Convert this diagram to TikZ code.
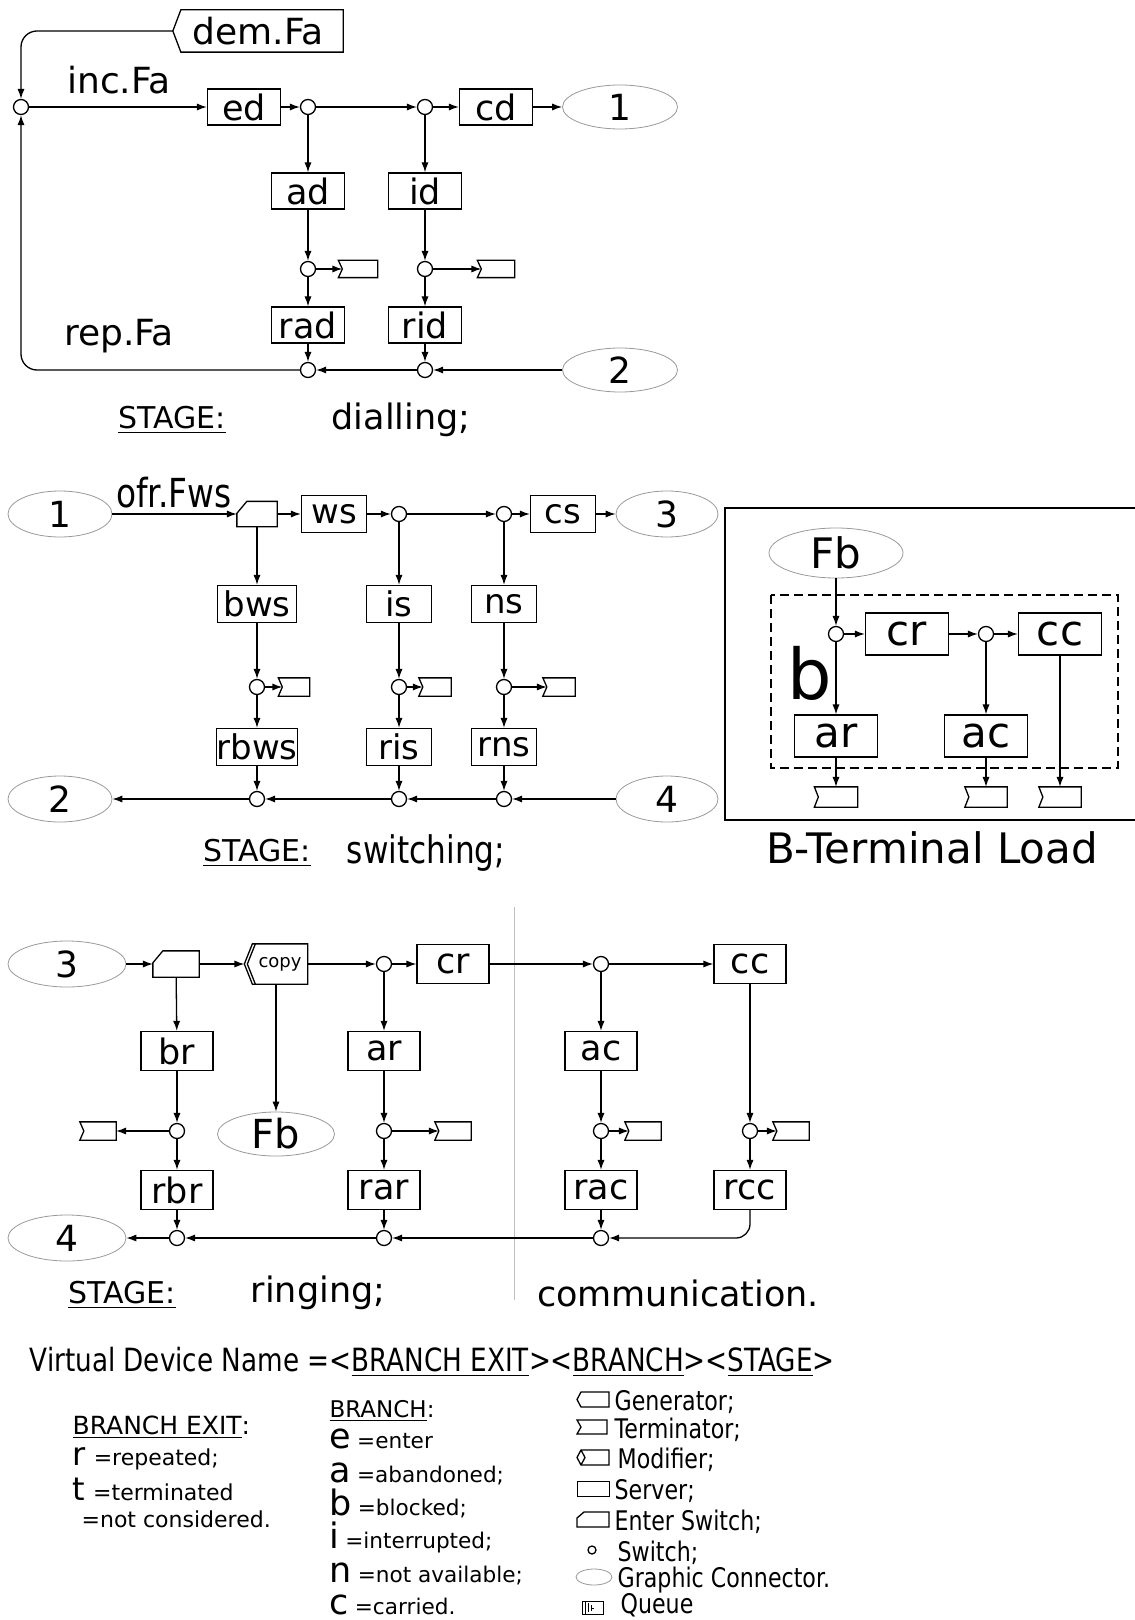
\documentclass[tikz,border=0pt]{standalone}
\usepackage{fontspec}
\setmainfont{DejaVu Sans}
\newfontfamily\condfont[FakeStretch=0.82]{DejaVu Sans}
\usetikzlibrary{arrows.meta,shapes.geometric}

\newcommand{\fsz}[1]{\fontsize{#1}{#1}\selectfont}
% outlines of the special devices, drawn round a plain node
\newcommand{\termout}[1]{\draw (#1.north west) -- (#1.north east) -- (#1.south east) -- (#1.south west) -- ([xshift=2pt]#1.west) -- cycle;}
\newcommand{\entout}[1]{\draw ([xshift=5pt]#1.north west) -- (#1.north east) -- (#1.south east) -- (#1.south west) -- ([yshift=-6pt]#1.north west) -- cycle;}

\tikzset{
  dev/.style={draw, inner sep=0pt, minimum width=36.5pt, minimum height=18pt, font=\fsz{17.5pt}},
  sw/.style={draw, circle, inner sep=0pt, minimum size=7.5pt},
  conn/.style={draw=gray!80, line width=0.4pt, ellipse, inner sep=0pt, minimum width=57.5pt, minimum height=22pt, font=\fsz{18pt}},
  termnode/.style={inner sep=0pt, minimum width=18pt, minimum height=8pt},
  entnode/.style={inner sep=0pt, minimum width=20pt, minimum height=12.5pt},
  lbl/.style={font=\fsz{18pt}},
  stagelbl/.style={font=\fsz{15pt}},
  legtxt/.style={anchor=base west, inner sep=0pt},
}

\begin{document}
\begin{tikzpicture}[x=0.5pt, y=-0.5pt, line width=0.65pt, >={Latex[length=5pt,width=3.6pt]}]
    \useasboundingbox (0,0) rectangle (1134,1620);

    % Dialling stage
    \node[inner sep=0pt, minimum width=84.5pt, minimum height=20.5pt, font=\fsz{18pt}] (dem) at (258,31) {dem.Fa};
    \draw ([xshift=4pt]dem.north west) -- (dem.north east) -- (dem.south east) -- ([xshift=4pt]dem.south west) -- (dem.west) -- cycle;
    \node[lbl] (incfa) at (119,80) {inc.Fa};
    \node[lbl] (repfa) at (119,336) {rep.Fa};

    \node[sw] (sw0) at (21,107) {};
    \node[dev] (ed) at (244,107) {ed};
    \node[sw] (sw1) at (308,107) {};
    \node[sw] (sw2) at (425,107) {};
    \node[dev] (cd) at (496,107) {cd};
    \node[conn] (c1) at (620,107) {1};
    \node[dev] (ad) at (308,191) {ad};
    \node[dev] (id) at (425,191) {id};
    \node[sw] (sw3) at (308,269) {};
    \node[sw] (sw4) at (425,269) {};
    \node[termnode, minimum width=19pt] (t1) at (358,269) {};
    \node[termnode] (t2) at (496,269) {};
    \termout{t1} \termout{t2}
    \node[dev] (rad) at (308,325) {rad};
    \node[dev] (rid) at (425,325) {rid};
    \node[sw] (sw5) at (308,370) {};
    \node[sw] (sw6) at (425,370) {};
    \node[conn] (c2) at (620,370) {2};

    \draw[->, rounded corners=8pt] (dem.west) -| (sw0.north);
    \draw[->] (sw0) -- (ed);
    \draw[->] (ed) -- (sw1);
    \draw[->] (sw1) -- (sw2);
    \draw[->] (sw2) -- (cd);
    \draw[->] (cd) -- (c1);
    \draw[->] (sw1) -- (ad);
    \draw[->] (ad) -- (sw3);
    \draw[->] (sw3) -- (rad);
    \draw[->] (sw3) -- ([xshift=2pt]t1.west);
    \draw[->] (rad) -- (sw5);
    \draw[->] (sw2) -- (id);
    \draw[->] (id) -- (sw4);
    \draw[->] (sw4) -- (rid);
    \draw[->] (sw4) -- ([xshift=2pt]t2.west);
    \draw[->] (rid) -- (sw6);
    \draw[->] (c2) -- (sw6);
    \draw[->] (sw6) -- (sw5);
    \draw[->, rounded corners=8pt] (sw5.west) -| (sw0.south);

    \node[stagelbl] (stg1) at (172,420) {\underline{STAGE:}};
    \node[font=\fsz{17.5pt}] (dial) at (401,420) {dialling;};

    % Switching stage
    \begin{scope}[dev/.append style={minimum width=32.5pt, minimum height=18.5pt, font=\fsz{17pt}}]
    \node[conn, minimum width=52pt, minimum height=23pt] (c1b) at (60,514) {1};
    \node[font=\condfont\fsz{20pt}, inner sep=0pt] (ofr) at (174,493) {ofr.Fws};
    \node[entnode, minimum width=19.5pt, minimum height=12pt] (es1) at (257,514) {};
    \entout{es1}
    \node[dev] (ws) at (334,514) {ws};
    \node[sw] (s21) at (399,514) {};
    \node[sw] (s22) at (504,514) {};
    \node[dev] (cs) at (563,514) {cs};
    \node[conn, minimum width=51pt, minimum height=23pt] (c3) at (667,514) {3};
    \node[dev, minimum width=39.5pt] (bws) at (257,604) {bws};
    \node[dev] (is) at (399,604) {is};
    \node[dev] (ns) at (504,604) {ns};
    \node[sw] (s23) at (257,687) {};
    \node[sw] (s24) at (399,687) {};
    \node[sw] (s25) at (504,687) {};
    \node[termnode, minimum width=15pt, minimum height=8.5pt] (t21) at (294,687) {};
    \node[termnode, minimum width=15.5pt, minimum height=8.5pt] (t22) at (435,687) {};
    \node[termnode, minimum width=15.5pt, minimum height=8.5pt] (t23) at (559,687) {};
    \termout{t21} \termout{t22} \termout{t23}
    \node[dev, minimum width=39.5pt] (rbws) at (257,747) {rbws};
    \node[dev] (ris) at (399,747) {ris};
    \node[dev] (rns) at (504,747) {rns};
    \node[sw] (s26) at (257,799) {};
    \node[sw] (s27) at (399,799) {};
    \node[sw] (s28) at (504,799) {};
    \node[conn, minimum width=52pt, minimum height=23pt] (c2b) at (60,799) {2};
    \node[conn, minimum width=51pt, minimum height=23pt] (c4) at (667,799) {4};
    \end{scope}

    \draw[->] (c1b) -- (es1);
    \draw[->] (es1) -- (ws);
    \draw[->] (ws) -- (s21);
    \draw[->] (s21) -- (s22);
    \draw[->] (s22) -- (cs);
    \draw[->] (cs) -- (c3);
    \draw[->] (es1) -- (bws);
    \draw[->] (bws) -- (s23);
    \draw[->] (s23) -- (rbws);
    \draw[->] (s23) -- ([xshift=2pt]t21.west);
    \draw[->] (rbws) -- (s26);
    \draw[->] (s21) -- (is);
    \draw[->] (is) -- (s24);
    \draw[->] (s24) -- (ris);
    \draw[->] (s24) -- ([xshift=2pt]t22.west);
    \draw[->] (ris) -- (s27);
    \draw[->] (s22) -- (ns);
    \draw[->] (ns) -- (s25);
    \draw[->] (s25) -- (rns);
    \draw[->] (s25) -- ([xshift=2pt]t23.west);
    \draw[->] (rns) -- (s28);
    \draw[->] (c4) -- (s28);
    \draw[->] (s28) -- (s27);
    \draw[->] (s27) -- (s26);
    \draw[->] (s26) -- (c2b);

    \node[stagelbl] (stg2) at (257,853) {\underline{STAGE:}};
    \node[font=\condfont\fsz{19pt}] (swit) at (426,853) {switching;};

    % B-Terminal Load
    \draw[line width=1pt] (1140,508) -- (725,508) -- (725,820) -- (1140,820);
    \draw[dash pattern=on 4.5pt off 2.5pt] (771,595) rectangle (1118,768);
    \begin{scope}[dev/.append style={minimum width=41.5pt, minimum height=21pt, font=\fsz{21pt}}]
    \node[conn, minimum width=67pt, minimum height=25pt, font=\fsz{21pt}] (fb) at (836,553) {Fb};
    \node[sw] (sb1) at (836,634) {};
    \node[dev] (crb) at (907,634) {cr};
    \node[sw] (sb2) at (986,634) {};
    \node[dev] (ccb) at (1060,634) {cc};
    \node[dev] (arb) at (836,736) {ar};
    \node[dev] (acb) at (986,736) {ac};
    \node[termnode, minimum width=21pt, minimum height=9.5pt] (tb1) at (836,797) {};
    \node[termnode, minimum width=20.5pt, minimum height=9.5pt] (tb2) at (986,797) {};
    \node[termnode, minimum width=20.5pt, minimum height=9.5pt] (tb3) at (1060,797) {};
    \termout{tb1} \termout{tb2} \termout{tb3}
    \end{scope}
    \node[font=\fsz{35pt}, inner sep=0pt] (bigb) at (810,673) {b};

    \draw[->] (fb) -- (sb1);
    \draw[->] (sb1) -- (crb);
    \draw[->] (crb) -- (sb2);
    \draw[->] (sb2) -- (ccb);
    \draw[->] (sb1) -- (arb);
    \draw[->] (sb2) -- (acb);
    \draw[->] (arb) -- (tb1);
    \draw[->] (acb) -- (tb2);
    \draw[->] (ccb) -- (tb3);

    \node[font=\fsz{21pt}] (btl) at (932,848) {B-Terminal Load};

    % Ringing and communication stages
    \draw[gray!50, line width=0.4pt] (514,907) -- (514,1300);
    \begin{scope}[dev/.append style={minimum width=36pt, minimum height=19.5pt}]
    \node[conn, minimum width=59pt, minimum height=23pt] (c3b) at (67,964) {3};
    \node[entnode, minimum width=22.5pt] (es2) at (176,964) {};
    \entout{es2}
    \node[inner sep=0pt, minimum width=31pt, minimum height=19.5pt, font=\fsz{9pt}] (copy) at (276,964) {\hspace{4pt}copy};
    \draw (copy.north east) -- ([xshift=4pt]copy.north west) -- (copy.west) -- ([xshift=4pt]copy.south west) -- (copy.south east) -- cycle;
    \draw ([xshift=5.5pt]copy.north west) -- ([xshift=1.5pt]copy.west) -- ([xshift=5.5pt]copy.south west);
    \node[sw] (s31) at (384,964) {};
    \node[dev] (cr) at (453,964) {cr};
    \node[sw] (s32) at (601,964) {};
    \node[dev] (cc) at (750,964) {cc};
    \node[dev] (br) at (177,1051) {br};
    \node[dev] (ar) at (384,1051) {ar};
    \node[dev] (ac) at (601,1051) {ac};
    \node[conn, minimum width=58.5pt, minimum height=22pt, font=\fsz{20pt}] (fb2) at (276,1134) {Fb};
    \node[sw] (s33) at (177,1131) {};
    \node[sw] (s34) at (384,1131) {};
    \node[sw] (s35) at (601,1131) {};
    \node[sw] (s39) at (750,1131) {};
    \node[termnode, minimum width=17.5pt, minimum height=8.5pt] (t31) at (98,1131) {};
    \node[termnode, minimum width=17.5pt, minimum height=8.5pt] (t32) at (453,1131) {};
    \node[termnode, minimum width=17.5pt, minimum height=8.5pt] (t33) at (643,1131) {};
    \node[termnode, minimum width=17.5pt, minimum height=8.5pt] (t34) at (791,1131) {};
    \termout{t31} \termout{t32} \termout{t33} \termout{t34}
    \node[dev] (rbr) at (177,1190) {rbr};
    \node[dev] (rar) at (384,1190) {rar};
    \node[dev] (rac) at (601,1190) {rac};
    \node[dev] (rcc) at (750,1190) {rcc};
    \node[sw] (s36) at (177,1238) {};
    \node[sw] (s37) at (384,1238) {};
    \node[sw] (s38) at (601,1238) {};
    \node[conn, minimum width=59pt, minimum height=23pt] (c4b) at (67,1238) {4};
    \end{scope}

    \draw[->] (c3b) -- (es2);
    \draw[->] (es2) -- (copy);
    \draw[->] (copy) -- (s31);
    \draw[->] (s31) -- (cr);
    \draw[->] (cr) -- (s32);
    \draw[->] (s32) -- (cc);
    \draw[->] (es2) -- (br);
    \draw[->] (br) -- (s33);
    \draw[->] (s33) -- (t31);
    \draw[->] (s33) -- (rbr);
    \draw[->] (rbr) -- (s36);
    \draw[->] (copy) -- (fb2);
    \draw[->] (s31) -- (ar);
    \draw[->] (ar) -- (s34);
    \draw[->] (s34) -- ([xshift=2pt]t32.west);
    \draw[->] (s34) -- (rar);
    \draw[->] (rar) -- (s37);
    \draw[->] (s32) -- (ac);
    \draw[->] (ac) -- (s35);
    \draw[->] (s35) -- ([xshift=2pt]t33.west);
    \draw[->] (s35) -- (rac);
    \draw[->] (rac) -- (s38);
    \draw[->] (cc) -- (s39);
    \draw[->] (s39) -- ([xshift=2pt]t34.west);
    \draw[->] (s39) -- (rcc);
    \draw[->, rounded corners=7pt] (rcc.south) |- (s38.east);
    \draw[->] (s38) -- (s37);
    \draw[->] (s37) -- (s36);
    \draw[->] (s36) -- (c4b);

    \node[stagelbl] (stg3) at (122,1295) {\underline{STAGE:}};
    \node[font=\fsz{17.5pt}] (ring) at (318,1293) {ringing;};
    \node[font=\fsz{17.5pt}] (comm) at (678,1293) {communication.};

    % Legend
    \node[anchor=west, inner sep=0pt, font=\condfont\fsz{16pt}] (vdn) at (29,1362)
        {Virtual Device Name =<\underline{BRANCH EXIT}><\underline{BRANCH}><\underline{STAGE}>};

    \node[legtxt, font=\fsz{12.5pt}] (bexit) at (72,1434) {\underline{BRANCH EXIT}:};
    \node[legtxt] (lr) at (72,1465) {\fsz{16pt}r\hspace{4pt}\fsz{11pt}=repeated;};
    \node[legtxt] (lt) at (72,1500) {\fsz{16pt}t\hspace{4pt}\fsz{11pt}=terminated};
    \node[legtxt, font=\fsz{11pt}] (lnc) at (81,1527) {=not considered.};

    \node[legtxt, font=\fsz{11.5pt}] (bran) at (329,1417) {\underline{BRANCH}:};
    \node[legtxt] (le) at (329,1448) {\fsz{17.5pt}e\hspace{3pt}\fsz{10.8pt}=enter};
    \node[legtxt] (la) at (329,1482) {\fsz{17.5pt}a\hspace{3pt}\fsz{10.8pt}=abandoned;};
    \node[legtxt] (lb) at (329,1515) {\fsz{17.5pt}b\hspace{3pt}\fsz{10.8pt}=blocked;};
    \node[legtxt] (li) at (329,1548) {\fsz{17.5pt}i\hspace{3pt}\fsz{10.8pt}=interrupted;};
    \node[legtxt] (ln) at (329,1582) {\fsz{17.5pt}n\hspace{3pt}\fsz{10.8pt}=not available;};
    \node[legtxt] (lc) at (329,1614) {\fsz{17.5pt}c\hspace{3pt}\fsz{10.8pt}=carried.};

    % Legend symbols
    \draw (581,1392) -- (609,1392) -- (609,1407) -- (581,1407) -- (577,1399.5) -- cycle;
    \draw (577,1420) -- (607,1420) -- (607,1434) -- (577,1434) -- (581,1427) -- cycle;
    \draw (581,1450) -- (609,1450) -- (609,1465) -- (581,1465) -- (577,1457.5) -- cycle;
    \draw (581,1450) -- (585,1457.5) -- (581,1465);
    \draw[line width=0.5pt] (577,1481) rectangle (609,1496);
    \draw (577,1527) -- (577,1518) -- (584,1512) -- (609,1512) -- (609,1527) -- cycle;
    \draw (592,1550) circle (2pt);
    \draw[gray!80, line width=0.4pt] (594,1577) ellipse (9pt and 4pt);
    \draw[line width=0.5pt] (582,1601) rectangle (603,1614);
    \draw[line width=0.4pt] (585,1601) -- (585,1614);
    \draw[line width=0.4pt] (588,1603) -- (588,1612);
    \draw[line width=0.4pt] (591,1605) -- (591,1611) (591,1608) -- (594,1608);

    \begin{scope}[every node/.style={legtxt, font=\condfont\fsz{13.5pt}}]
    \node (lgen) at (614,1410) {Generator;};
    \node (lterm) at (614,1438) {Terminator;};
    \node (lmod) at (617,1468) {Modifier;};
    \node (lserv) at (614,1499) {Server;};
    \node (lent) at (614,1530) {Enter Switch;};
    \node (lsw) at (617,1561) {Switch;};
    \node (lgc) at (617,1587) {Graphic Connector.};
    \node (lq) at (620,1613) {Queue};
    \end{scope}
\end{tikzpicture}
\end{document}
